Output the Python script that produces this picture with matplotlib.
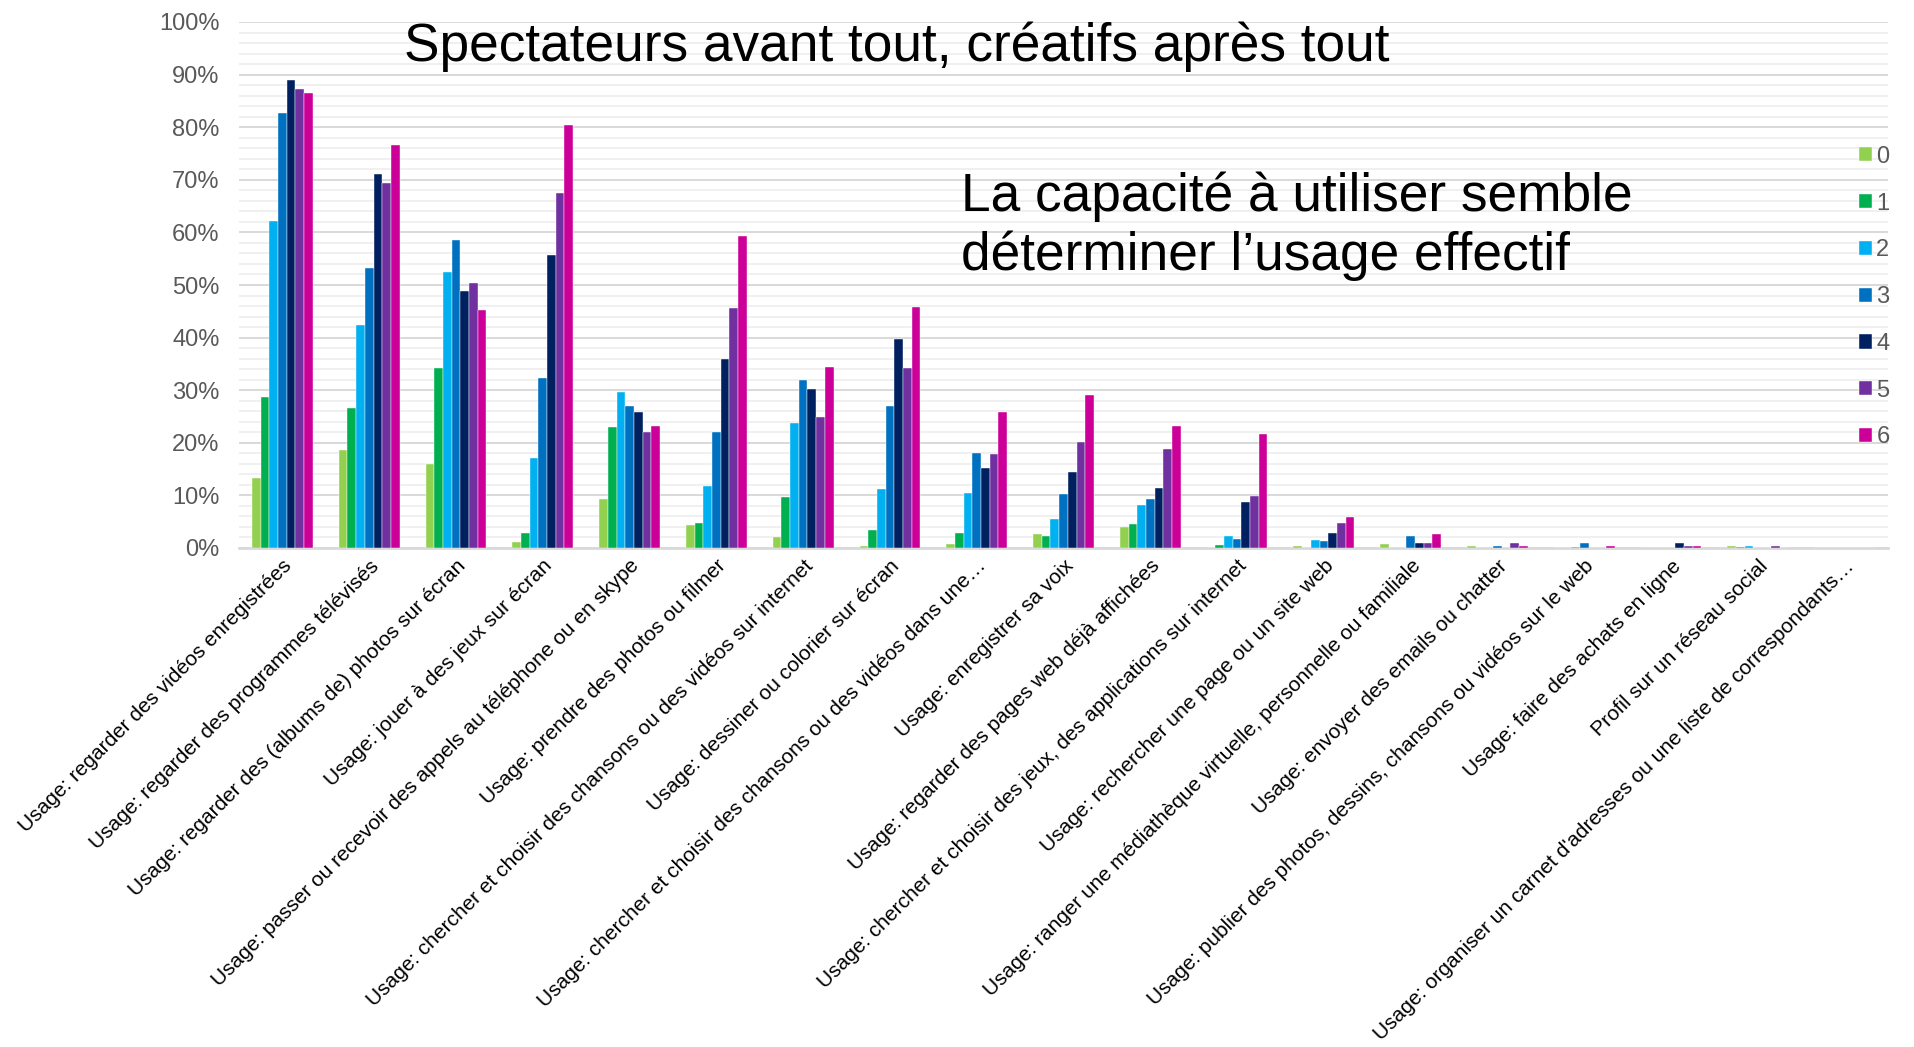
import numpy as np
import matplotlib
matplotlib.use("Agg")
import matplotlib.pyplot as plt
from matplotlib.ticker import MultipleLocator, PercentFormatter

plt.rcParams['font.family'] = ['Liberation Sans', 'DejaVu Sans']

categories = [
    "Usage: regarder des vidéos enregistrées",
    "Usage: regarder des programmes télévisés",
    "Usage: regarder des (albums de) photos sur écran",
    "Usage: jouer à des jeux sur écran",
    "Usage: passer ou recevoir des appels au téléphone ou en skype",
    "Usage: prendre des photos ou filmer",
    "Usage: chercher et choisir des chansons ou des vidéos sur internet",
    "Usage: dessiner ou colorier sur écran",
    "Usage: chercher et choisir des chansons ou des vidéos dans une…",
    "Usage: enregistrer sa voix",
    "Usage: regarder des pages web déjà affichées",
    "Usage: chercher et choisir des jeux, des applications sur internet",
    "Usage: rechercher une page ou un site web",
    "Usage: ranger une médiathèque virtuelle, personnelle ou familiale",
    "Usage: envoyer des emails ou chatter",
    "Usage: publier des photos, dessins, chansons ou vidéos sur le web",
    "Usage: faire des achats en ligne",
    "Profil sur un réseau social",
    "Usage: organiser un carnet d'adresses ou une liste de correspondants…",
]

series_names = ["0", "1", "2", "3", "4", "5", "6"]

# share of children (%) per category, one list per score
s0 = [13.3, 18.6, 16.0, 1.2, 9.3, 4.4, 2.1, 0.3, 0.8, 2.6, 3.9, 0.0, 0.4, 0.8, 0.4, 0.0, 0.0, 0.4, 0.0]
s1 = [28.7, 26.7, 34.2, 2.8, 23.0, 4.7, 9.7, 3.4, 2.8, 2.2, 4.6, 0.6, 0.0, 0.0, 0.0, 0.0, 0.0, 0.2, 0.0]
s2 = [62.2, 42.4, 52.5, 17.1, 29.6, 11.8, 23.8, 11.3, 10.4, 5.5, 8.2, 2.2, 1.6, 0.0, 0.0, 0.2, 0.0, 0.4, 0.0]
s3 = [82.7, 53.2, 58.6, 32.3, 27.0, 22.1, 31.9, 27.0, 18.1, 10.2, 9.3, 1.8, 1.3, 2.2, 0.4, 0.9, 0.0, 0.0, 0.0]
s4 = [88.9, 71.1, 48.9, 55.7, 25.8, 35.9, 30.2, 39.8, 15.3, 14.4, 11.5, 8.7, 2.8, 0.9, 0.0, 0.0, 0.9, 0.0, 0.0]
s5 = [87.3, 69.4, 50.4, 67.4, 22.0, 45.6, 24.9, 34.3, 17.8, 20.2, 18.9, 9.9, 4.7, 0.9, 0.9, 0.0, 0.4, 0.4, 0.0]
s6 = [86.5, 76.7, 45.3, 80.5, 23.2, 59.4, 34.5, 45.9, 25.8, 29.1, 23.2, 21.6, 5.9, 2.7, 0.4, 0.4, 0.4, 0.0, 0.0]

colors = ["#92D050", "#00B050", "#00B0F0", "#0070C0", "#002060", "#7030A0", "#CC0099"]

fig = plt.figure(figsize=(19.15, 10.47), dpi=100)
ax = fig.add_axes([239 / 1915, 1 - 548 / 1047, 1649 / 1915, 526 / 1047])

x = np.arange(len(categories))
w = 0.1
for i, (vals, c, name) in enumerate(zip([s0, s1, s2, s3, s4, s5, s6], colors, series_names)):
    ax.bar(x + (i - 3) * w, np.array(vals) / 100, width=w, color=c, label=name,
           edgecolor="white", linewidth=0.3, zorder=3)

ax.set_xlim(-0.5, len(categories) - 0.5)
ax.set_ylim(0, 1)
ax.yaxis.set_major_locator(MultipleLocator(0.1))
ax.yaxis.set_minor_locator(MultipleLocator(0.02))
ax.yaxis.set_major_formatter(PercentFormatter(1.0, decimals=0))
ax.grid(axis="y", which="major", color="#D9D9D9", linewidth=1.4, zorder=0)
ax.grid(axis="y", which="minor", color="#F0F0F0", linewidth=1.4, zorder=0)
for s in ["top", "right", "left"]:
    ax.spines[s].set_visible(False)
ax.spines["bottom"].set_color("#D9D9D9")
ax.spines["bottom"].set_linewidth(2)
ax.tick_params(axis="y", which="both", length=0, labelsize=17, labelcolor="#595959", pad=14)
ax.tick_params(axis="x", length=0, pad=6)

ax.set_xticks(x)
ax.set_xticklabels(categories, rotation=45, ha="right", rotation_mode="anchor",
                   fontsize=15, color="black")

leg = ax.legend(frameon=False, loc="center left", bbox_to_anchor=(0.975, 0.477),
                handlelength=0.55, handleheight=0.55, handletextpad=0.2,
                labelspacing=1.05, fontsize=17, borderpad=0)
for t in leg.get_texts():
    t.set_color("#595959")

fig.text(404 / 1915, 1 - 47 / 1047, "Spectateurs avant tout, créatifs après tout",
         fontsize=38.3, ha="left", va="center")
fig.text(961 / 1915, 1 - 226 / 1047, "La capacité à utiliser semble\ndéterminer l’usage effectif",
         fontsize=38.3, ha="left", va="center", linespacing=1.22)

fig.savefig("out.png", dpi=100)
